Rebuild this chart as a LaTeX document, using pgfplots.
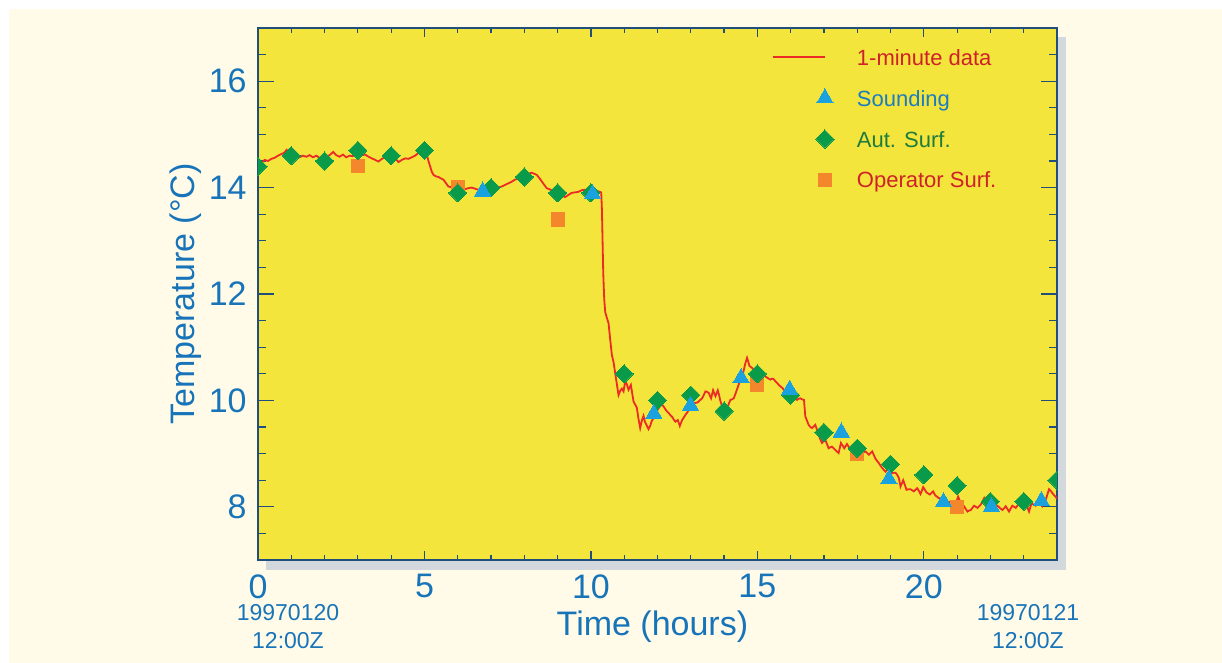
\documentclass[border=0pt]{standalone}
\usepackage{fontspec}
\setmainfont{Liberation Sans}
\usepackage{pgfplots}
\pgfplotsset{compat=1.18}

\definecolor{cream}{HTML}{FFFBE8}
\definecolor{plotyellow}{HTML}{F4E53C}
\definecolor{shadowgrey}{HTML}{D3D8DC}
\definecolor{framecol}{HTML}{1F4F7A}
\definecolor{tickblue}{HTML}{1874B9}
\definecolor{linered}{HTML}{EC2A26}
\definecolor{textred}{HTML}{CF2129}
\definecolor{sndblue}{HTML}{1AA2DE}
\definecolor{sndtext}{HTML}{1B7CC0}
\definecolor{autgreen}{HTML}{0A9B4A}
\definecolor{auttext}{HTML}{1E7B3C}
\definecolor{oporange}{HTML}{F4862B}

\pgfplotsset{
  lineimg/.style={legend image code/.code={
      \pgfpathrectangle{\pgfpoint{0pt}{-4pt}}{\pgfpoint{26pt}{8pt}}%
      \pgfusepath{use as bounding box}%
      \draw[linered, line width=1pt] (0pt,0pt) -- (26pt,0pt);}},
  markimg/.style={legend image code/.code={
      \pgfpathrectangle{\pgfpoint{0pt}{-4pt}}{\pgfpoint{26pt}{8pt}}%
      \pgfusepath{use as bounding box}%
      \draw[##1] plot coordinates {(26pt,0pt)};}},
}

\begin{document}
\begin{tikzpicture}
\useasboundingbox (-129pt,-51.5pt) rectangle (482pt,280pt);
\fill[cream] (-124.5pt,-51.5pt) rectangle (482pt,275.5pt);
% drop shadow behind the plot box
\fill[shadowgrey] (4pt,-5pt) rectangle (404pt,261.5pt);

\begin{axis}[
  at={(0pt,0pt)}, anchor=south west,
  scale only axis, width=399.5pt, height=266pt,
  xmin=0, xmax=24, ymin=7, ymax=17,
  xtick={0,5,...,20}, minor xtick={0,1,...,24},
  ytick={8,10,...,16}, minor ytick={7,7.5,...,17},
  tick align=inside, tick pos=both,
  major tick length=8pt, minor tick length=4pt,
  xtick style={/pgfplots/major tick length=4.5pt, /pgfplots/minor tick length=2.5pt},
  tick style={draw=framecol, line width=0.6pt},
  axis line style={draw=framecol, line width=0.8pt},
  axis background/.style={fill=plotyellow},
  clip marker paths=true,
  /pgf/number format/assume math mode=true,
  ticklabel style={font=\fontsize{17}{17}\selectfont, text=tickblue, inner sep=0pt},
  xticklabel style={yshift=-7pt},
  yticklabel style={xshift=-5.5pt},
  xlabel={Time (hours)}, ylabel={Temperature (°C)},
  every axis x label/.style={at={(rel axis cs:0.4937,-0.141)}, anchor=base,
    font=\fontsize{17}{17}\selectfont, text=tickblue},
  every axis y label/.style={at={(rel axis cs:-0.0789,0.5)}, anchor=base, rotate=90,
    font=\fontsize{17}{17}\selectfont, text=tickblue},
  legend style={draw=none, fill=none, at={(rel axis cs:0.644,0.9605)}, anchor=north west,
    inner sep=0pt, row sep=12.4pt, column sep=16pt,
    nodes={inner sep=0pt, text height=8pt, text depth=0pt, anchor=west,
      font=\fontsize{11}{11}\selectfont}},
  legend cell align=left,
]

% 1-minute data
\addplot[linered, line width=0.9pt, lineimg] coordinates {
(0,14.49) (0.1,14.47) (0.2,14.52) (0.3,14.50) (0.4,14.54) (0.5,14.56) (0.6,14.60)
(0.7,14.63) (0.8,14.66) (0.86,14.71) (0.95,14.66) (1.05,14.62) (1.15,14.60) (1.25,14.57)
(1.35,14.60) (1.45,14.58) (1.55,14.61) (1.65,14.57) (1.75,14.60) (1.85,14.56) (1.95,14.58)
(2.05,14.57) (2.15,14.61) (2.26,14.67) (2.35,14.61) (2.45,14.58) (2.55,14.62) (2.65,14.57)
(2.75,14.60) (2.85,14.59) (2.95,14.63) (3.02,14.65) (3.12,14.61) (3.22,14.62) (3.32,14.58)
(3.42,14.55) (3.52,14.52) (3.62,14.49) (3.72,14.54) (3.82,14.57) (3.92,14.59) (4.02,14.60)
(4.12,14.55) (4.22,14.48) (4.32,14.52) (4.42,14.55) (4.52,14.54) (4.62,14.57) (4.72,14.60)
(4.82,14.65) (4.92,14.69) (4.97,14.72) (5.02,14.68) (5.07,14.62) (5.12,14.50) (5.17,14.40)
(5.22,14.30) (5.27,14.24) (5.35,14.21) (5.42,14.20) (5.5,14.17) (5.57,14.15) (5.65,14.08)
(5.72,14.02) (5.8,14.01) (5.87,13.99) (5.95,13.97) (6.02,13.98) (6.12,13.96) (6.22,13.97)
(6.32,13.99) (6.42,14.00) (6.52,13.98) (6.62,13.96) (6.72,13.95) (6.87,13.97) (7.0,13.99)
(7.12,14.01) (7.22,14.00) (7.32,14.02) (7.42,14.05) (7.52,14.08) (7.62,14.11) (7.72,14.15)
(7.82,14.17) (7.92,14.21) (8.02,14.23) (8.12,14.26) (8.22,14.28) (8.3,14.26) (8.37,14.24)
(8.45,14.18) (8.52,14.12) (8.6,14.05) (8.67,13.99) (8.75,13.97) (8.82,13.95) (8.92,13.92)
(9.02,13.90) (9.12,13.86) (9.22,13.82) (9.32,13.86) (9.42,13.90) (9.52,13.91) (9.62,13.92)
(9.72,13.95) (9.82,13.96) (9.92,13.93) (10.02,13.92) (10.12,13.95) (10.22,13.93) (10.31,13.91)
(10.33,13.60) (10.35,13.00) (10.37,12.40) (10.40,11.90) (10.43,11.66) (10.48,11.55) (10.53,11.45)
(10.58,11.14) (10.63,10.85) (10.68,10.72) (10.73,10.51) (10.78,10.30) (10.83,10.10) (10.88,10.18)
(10.93,10.22) (10.98,10.17) (11.03,10.36) (11.08,10.30) (11.13,10.20) (11.2,10.29) (11.28,9.98)
(11.33,9.92) (11.38,9.86) (11.43,9.65) (11.48,9.48) (11.53,9.62) (11.58,9.71) (11.62,9.60)
(11.66,9.55) (11.73,9.46) (11.78,9.52) (11.82,9.60) (11.87,9.66) (11.92,9.73) (11.98,9.80)
(12.04,9.86) (12.09,9.90) (12.14,9.92) (12.19,9.88) (12.24,9.83) (12.29,9.79) (12.34,9.76)
(12.39,9.72) (12.44,9.69) (12.49,9.64) (12.54,9.60) (12.61,9.63) (12.67,9.52) (12.74,9.63)
(12.79,9.68) (12.84,9.73) (12.89,9.77) (12.94,9.82) (12.99,9.87) (13.04,9.92) (13.12,9.95)
(13.2,9.96) (13.27,10.00) (13.34,10.04) (13.39,10.10) (13.44,10.17) (13.49,10.16) (13.54,10.14)
(13.58,10.08) (13.61,10.04) (13.67,10.19) (13.74,10.08) (13.81,10.19) (13.85,10.10) (13.88,10.01)
(13.92,9.93) (13.96,9.86) (14.03,9.69) (14.1,9.86) (14.15,9.95) (14.19,10.01) (14.24,10.02)
(14.29,10.04) (14.34,10.12) (14.39,10.21) (14.44,10.30) (14.49,10.39) (14.53,10.45) (14.57,10.51)
(14.61,10.62) (14.64,10.70) (14.69,10.80) (14.73,10.72) (14.76,10.65) (14.8,10.63) (14.84,10.61)
(14.89,10.58) (14.94,10.55) (15.02,10.53) (15.09,10.51) (15.17,10.48) (15.24,10.45) (15.31,10.42)
(15.39,10.39) (15.44,10.41) (15.49,10.40) (15.54,10.36) (15.59,10.33) (15.66,10.28) (15.74,10.24)
(15.81,10.19) (15.89,10.14) (15.97,10.10) (16.04,10.07) (16.12,10.04) (16.19,10.01) (16.24,10.03)
(16.29,10.04) (16.34,10.02) (16.4,10.01) (16.44,9.70) (16.49,9.62) (16.54,9.54) (16.59,9.50)
(16.64,9.48) (16.69,9.51) (16.74,9.54) (16.79,9.45) (16.84,9.35) (16.89,9.27) (16.94,9.20)
(16.99,9.23) (17.04,9.26) (17.09,9.18) (17.14,9.10) (17.19,9.12) (17.24,9.13) (17.29,9.10)
(17.34,9.07) (17.39,9.04) (17.44,9.01) (17.51,9.20) (17.56,9.15) (17.61,9.10) (17.65,9.14)
(17.69,9.18) (17.75,9.12) (17.8,9.07) (17.85,9.10) (17.9,9.13) (17.98,9.10) (18.05,9.08)
(18.1,9.05) (18.15,9.01) (18.2,9.03) (18.25,9.04) (18.3,9.01) (18.35,8.98) (18.4,9.01)
(18.45,9.04) (18.5,8.97) (18.55,8.90) (18.6,8.86) (18.65,8.82) (18.7,8.77) (18.75,8.73)
(18.8,8.69) (18.85,8.66) (18.9,8.70) (18.95,8.73) (19.0,8.68) (19.05,8.63) (19.1,8.64)
(19.15,8.64) (19.2,8.60) (19.25,8.54) (19.3,8.38) (19.34,8.44) (19.38,8.50) (19.43,8.41)
(19.48,8.32) (19.54,8.33) (19.6,8.33) (19.65,8.31) (19.7,8.29) (19.75,8.32) (19.8,8.35)
(19.85,8.30) (19.9,8.24) (19.94,8.30) (19.98,8.37) (20.03,8.32) (20.08,8.27) (20.13,8.25)
(20.18,8.23) (20.23,8.26) (20.28,8.29) (20.31,8.25) (20.35,8.21) (20.4,8.19) (20.45,8.16)
(20.5,8.16) (20.55,8.15) (20.62,8.12) (20.7,8.10) (20.77,8.09) (20.85,8.07) (20.9,8.06)
(20.95,8.04) (21.03,8.19) (21.07,8.13) (21.11,8.07) (21.16,8.04) (21.21,8.01) (21.26,7.96)
(21.31,7.91) (21.36,7.93) (21.41,7.94) (21.46,7.98) (21.51,8.02) (21.56,8.00) (21.61,7.98)
(21.66,8.01) (21.71,8.04) (21.76,8.10) (21.81,8.16) (21.85,8.08) (21.89,8.01) (21.94,8.04)
(21.99,8.07) (22.05,8.02) (22.11,7.98) (22.16,8.00) (22.21,8.02) (22.28,7.98) (22.36,7.94)
(22.41,7.97) (22.46,8.01) (22.51,7.96) (22.56,7.91) (22.61,7.97) (22.66,8.02) (22.71,8.00)
(22.76,7.98) (22.81,8.02) (22.86,8.06) (22.91,8.03) (22.96,8.01) (23.01,8.04) (23.06,8.07)
(23.11,7.99) (23.16,7.91) (23.23,8.06) (23.3,8.04) (23.36,8.02) (23.41,8.06) (23.46,8.10)
(23.51,8.05) (23.56,8.01) (23.61,8.07) (23.66,8.13) (23.71,8.23) (23.76,8.33) (23.81,8.30)
(23.86,8.26) (23.91,8.22) (23.96,8.19) (24.0,8.15)
};
\addlegendentry[text=textred]{1-minute data}

% Operator Surf.
\addplot[oporange, only marks, forget plot, mark=square*, mark size=3.3pt,
  mark options={fill=oporange, line width=0pt}] coordinates {
(3,14.4) (6,14.0) (9,13.4) (15,10.3) (18,9.0) (21,8.0)
};

% Aut. Surf.
\addplot[autgreen, only marks, forget plot, mark=square*, mark size=3.2pt,
  mark options={fill=autgreen, rotate=45, line width=0pt}] coordinates {
(0,14.4) (1,14.6) (2,14.5) (3,14.7) (4,14.6) (5,14.7) (6,13.9) (7,14.0)
(8,14.2) (9,13.9) (10,13.9) (11,10.5) (12,10.0) (13,10.1) (14,9.8) (15,10.5)
(16,10.1) (17,9.4) (18,9.1) (19,8.8) (20,8.6) (21,8.4) (22,8.1) (23,8.1) (24,8.5)
};

% Sounding
\addplot[sndblue, only marks, forget plot, mark=triangle*, mark size=4.7pt,
  mark options={fill=sndblue, line width=0pt}] coordinates {
(6.75,13.93) (10.05,13.88) (11.89,9.75) (12.99,9.9) (14.51,10.42) (15.97,10.2)
(17.52,9.4) (18.95,8.52) (20.59,8.09) (22.03,8.0) (23.53,8.11)
};

\addlegendimage{sndblue, only marks, mark=triangle*, mark size=4.7pt, mark options={fill=sndblue, line width=0pt}, markimg}
\addlegendentry[text=sndtext]{Sounding}
\addlegendimage{autgreen, only marks, mark=square*, mark size=3.2pt, mark options={fill=autgreen, rotate=45, line width=0pt}, markimg}
\addlegendentry[text=auttext]{Aut. Surf.}
\addlegendimage{oporange, only marks, mark=square*, mark size=3.3pt, mark options={fill=oporange, line width=0pt}, markimg}
\addlegendentry[text=textred]{Operator Surf.}
\end{axis}

% start and end dates under the time axis
\begin{scope}[every node/.style={font=\fontsize{11.5}{11.5}\selectfont, text=tickblue, anchor=base, inner sep=0pt}]
\node at (15pt,-30.5pt) {19970120};
\node at (15pt,-44.5pt) {12:00Z};
\node at (385pt,-30.5pt) {19970121};
\node at (385pt,-44.5pt) {12:00Z};
\end{scope}
\end{tikzpicture}
\end{document}
